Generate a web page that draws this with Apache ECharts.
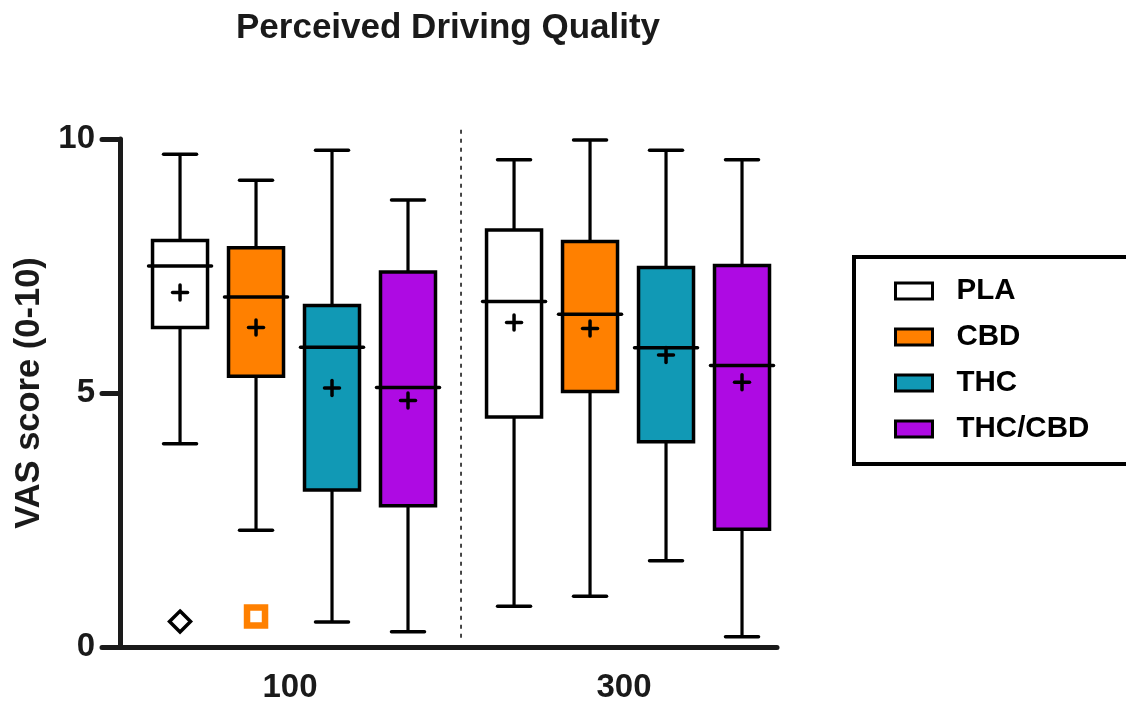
<!DOCTYPE html>
<html>
<head>
<meta charset="utf-8">
<script src="https://cdn.jsdelivr.net/npm/echarts@6/dist/echarts.min.js"></script>
<style>
html,body{margin:0;padding:0;background:#fff;}
#chart{width:1126px;height:707px;}
</style>
</head>
<body>
<div id="chart"></div>
<script>
// ---- data ----
const groups = ['100', '300'];
const treatments = ['PLA', 'CBD', 'THC', 'THC/CBD'];
const colors = ['#ffffff', '#ff8000', '#1199b5', '#ae0ae3'];
// [min, q1, median, q3, max] per group
const plaBox    = [[4.00, 6.29, 7.50, 8.00, 9.70], [0.80, 4.53, 6.80, 8.21, 9.59]];
const cbdBox    = [[2.30, 5.33, 6.89, 7.86, 9.19], [1.00, 5.03, 6.55, 7.98, 9.98]];
const thcBox    = [[0.49, 3.09, 5.90, 6.72, 9.78], [1.70, 4.04, 5.89, 7.47, 9.78]];
const thcCbdBox = [[0.30, 2.78, 5.11, 7.38, 8.80], [0.20, 2.32, 5.54, 7.51, 9.59]];
const plaMean    = [6.98, 6.39];
const cbdMean    = [6.29, 6.27];
const thcMean    = [5.10, 5.75];
const thcCbdMean = [4.85, 5.21];
const plaOutliers = [[0, 0.50]];
const cbdOutliers = [[0, 0.60]];
const dividerLine = [[0.5, 10.18, 0.11]];
const yTicks = [0, 5, 10];

const boxes = [plaBox, cbdBox, thcBox, thcCbdBox];
const means = [plaMean, cbdMean, thcMean, thcCbdMean];
const slot = 0.2275;
const offsetOf = t => (t - 1.5) * slot;

const FONT = 'Liberation Sans, Arial, Helvetica, sans-serif';
const INK = '#1a1a1a';

function renderBox(params, api) {
  const x = api.value(0);
  const cx = api.coord([x, 0])[0];
  const y = i => api.coord([x, api.value(i)])[1];
  const yMin = y(1), yQ1 = y(2), yMed = y(3), yQ3 = y(4), yMax = y(5), yMean = y(6);
  const bw = 55, cw = 33, mw = 63, ps = 7.5;
  const fill = api.visual('color');
  const ls = {stroke: '#000', lineWidth: 3.5, lineCap: 'round'};
  return {
    type: 'group',
    children: [
      {type: 'line', shape: {x1: cx, y1: yMax, x2: cx, y2: yQ3}, style: {stroke: '#000', lineWidth: 3.2}},
      {type: 'line', shape: {x1: cx, y1: yQ1, x2: cx, y2: yMin}, style: {stroke: '#000', lineWidth: 3.2}},
      {type: 'line', shape: {x1: cx - cw / 2, y1: yMax, x2: cx + cw / 2, y2: yMax}, style: ls},
      {type: 'line', shape: {x1: cx - cw / 2, y1: yMin, x2: cx + cw / 2, y2: yMin}, style: ls},
      {type: 'rect', shape: {x: cx - bw / 2, y: yQ3, width: bw, height: yQ1 - yQ3}, style: {fill: fill, stroke: '#000', lineWidth: 3.5}},
      {type: 'line', shape: {x1: cx - mw / 2, y1: yMed, x2: cx + mw / 2, y2: yMed}, style: ls},
      {type: 'line', shape: {x1: cx - ps, y1: yMean, x2: cx + ps, y2: yMean}, style: ls},
      {type: 'line', shape: {x1: cx, y1: yMean - ps, x2: cx, y2: yMean + ps}, style: ls}
    ]
  };
}

const series = treatments.map((name, t) => ({
  name: name,
  type: 'custom',
  renderItem: renderBox,
  itemStyle: {color: colors[t]},
  encode: {x: 0, y: [1, 2, 3, 4, 5]},
  clip: false,
  z: 3,
  data: groups.map((g, i) => [i + offsetOf(t)].concat(boxes[t][i], [means[t][i]]))
}));

series.push({
  name: 'PLA outliers',
  type: 'scatter',
  symbol: 'diamond',
  symbolSize: 21,
  itemStyle: {color: '#fff', borderColor: '#000', borderWidth: 3.5, opacity: 1},
  z: 4,
  data: plaOutliers.map(d => [d[0] + offsetOf(0), d[1]])
});
series.push({
  name: 'CBD outliers',
  type: 'scatter',
  symbol: 'rect',
  symbolSize: 18,
  itemStyle: {color: '#fff', borderColor: '#ff8000', borderWidth: 6.5, opacity: 1},
  z: 4,
  data: cbdOutliers.map(d => [d[0] + offsetOf(1), d[1]])
});
series.push({
  name: 'divider',
  type: 'custom',
  clip: false,
  z: 1,
  renderItem: function (params, api) {
    const p1 = api.coord([api.value(0), api.value(1)]);
    const p2 = api.coord([api.value(0), api.value(2)]);
    return {type: 'line', shape: {x1: p1[0], y1: p1[1], x2: p2[0], y2: p2[1]},
      style: {stroke: '#333', lineWidth: 1.8, lineDash: [4, 5]}};
  },
  data: dividerLine
});

const chart = echarts.init(document.getElementById('chart'), null, {renderer: 'canvas'});
chart.setOption({
  animation: false,
  backgroundColor: '#fff',
  title: {
    text: 'Perceived Driving Quality',
    left: 231, top: 6,
    textStyle: {fontFamily: FONT, fontSize: 35, fontWeight: 'bold', color: INK}
  },
  legend: {
    orient: 'vertical',
    left: 854, top: 257,
    padding: [19, 60, 20, 40],
    borderColor: '#000',
    borderWidth: 4,
    itemWidth: 37,
    itemHeight: 16,
    itemGap: 16,
    selectedMode: false,
    icon: 'rect',
    textStyle: {fontFamily: FONT, fontSize: 29.5, fontWeight: 'bold', color: '#000', padding: [0, 0, 0, 19]},
    data: treatments.map((n, t) => ({name: n, itemStyle: {color: colors[t], borderColor: '#000', borderWidth: 3}}))
  },
  grid: {left: 120, right: 349, top: 139, bottom: 60},
  xAxis: {
    type: 'value',
    min: -0.521, max: 1.446,
    splitLine: {show: false},
    axisTick: {show: false},
    axisLine: {show: true, onZero: false, lineStyle: {color: INK, width: 5, cap: 'round'}},
    axisLabel: {
      customValues: groups.map((g, i) => i),
      formatter: v => groups[Math.round(v)],
      fontFamily: FONT, fontSize: 33, fontWeight: 'bold', color: INK,
      margin: 24, padding: [0, 8, 0, 0]
    }
  },
  yAxis: {
    type: 'value',
    min: 0, max: 10, interval: 5,
    name: 'VAS score (0-10)',
    nameLocation: 'middle',
    nameGap: 70,
    nameTextStyle: {fontFamily: FONT, fontSize: 34.5, fontWeight: 'bold', color: INK},
    splitLine: {show: false},
    axisLine: {show: true, onZero: false, lineStyle: {color: INK, width: 5, cap: 'round'}},
    axisTick: {show: true, length: 18, lineStyle: {color: INK, width: 5, cap: 'round'}, customValues: yTicks},
    axisLabel: {customValues: yTicks, fontFamily: FONT, fontSize: 33, fontWeight: 'bold', color: INK, margin: 25}
  },
  series: series
});
</script>
</body>
</html>
